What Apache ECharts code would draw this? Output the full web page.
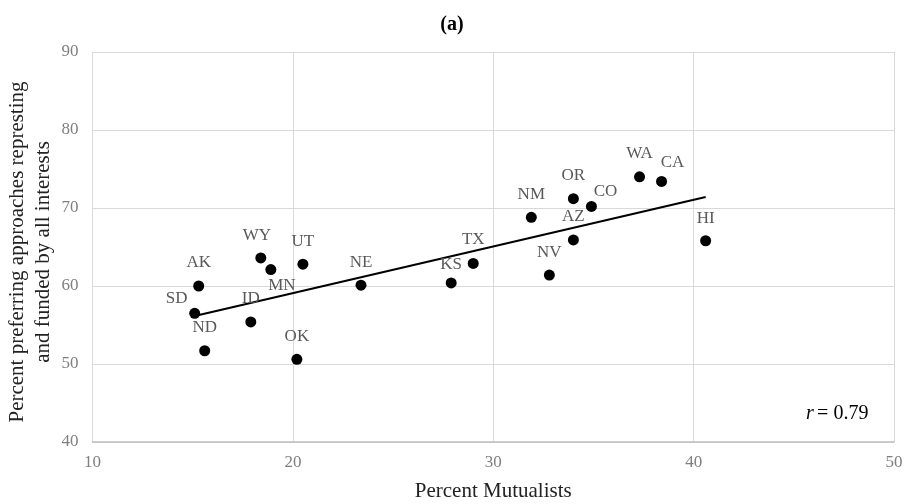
<!DOCTYPE html>
<html><head><meta charset="utf-8">
<script src="https://cdn.jsdelivr.net/npm/echarts@6/dist/echarts.min.js"></script>
<style>html,body{margin:0;padding:0;background:#fff}#c{width:904px;height:504px}</style>
</head><body><div id="c"></div>
<script>
const states = ['AK','WY','MN','UT','NE','SD','ID','ND','OK','KS','TX','NM','NV','AZ','OR','CO','WA','CA','HI'];
const mutualists = [15.3,18.4,18.9,20.5,23.4,15.1,17.9,15.6,20.2,27.9,29.0,31.9,32.8,34.0,34.0,34.9,37.3,38.4,40.6];
const preferring = [60.0,63.6,62.1,62.8,60.1,56.5,55.4,51.7,50.6,60.4,62.9,68.8,61.4,65.9,71.2,70.2,74.0,73.4,65.8];
const trendX = [15.1,40.6];
const trendY = [56.15,71.4];
const xTicks = [10,20,30,40,50];
const yTicks = [40,50,60,70,80,90];
const yTitle = 'Percent preferring approaches represting\nand funded by all interests';

// label offsets (px) for each state's label
const labelOffsets = {
  AK:[0,-23], WY:[-4,-22], MN:[11,16], UT:[0,-23], NE:[0,-23], SD:[-18,-15],
  ID:[0,-23], ND:[0,-23], OK:[0,-23], KS:[0,-18], TX:[0,-24], NM:[0,-23],
  NV:[0,-23], AZ:[0,-23], OR:[0,-23], CO:[14,-15], WA:[0,-23], CA:[11,-19], HI:[0,-22]
};

const serif = '"Liberation Serif","DejaVu Serif",serif';
const chart = echarts.init(document.getElementById('c'));
const pts = states.map((s,i)=>({
  value:[mutualists[i],preferring[i]],
  name:s,
  label:{offset:labelOffsets[s]}
}));
chart.setOption({
  animation:false,
  title:{text:'(a)',left:'center',top:10,textStyle:{fontFamily:serif,fontWeight:'bold',fontSize:20,color:'#000'}},
  grid:{left:92.5,right:10,top:52,bottom:62,containLabel:false,outerBoundsMode:'none'},
  xAxis:{type:'value',min:xTicks[0],max:xTicks[xTicks.length-1],interval:10,
    name:'Percent Mutualists',nameLocation:'middle',nameGap:39,
    nameTextStyle:{fontFamily:serif,fontSize:21,color:'#222'},
    axisLine:{show:true,lineStyle:{color:'#bfbfbf',width:1.5}},
    axisTick:{show:false},
    axisLabel:{fontFamily:serif,fontSize:17,color:'#7f7f7f',margin:12},
    splitLine:{show:true,lineStyle:{color:'#d9d9d9',width:1}}},
  yAxis:{type:'value',min:yTicks[0],max:yTicks[yTicks.length-1],interval:10,
    axisLine:{show:false},axisTick:{show:false},
    axisLabel:{fontFamily:serif,fontSize:17,color:'#7f7f7f',margin:14},
    splitLine:{show:true,lineStyle:{color:'#d9d9d9',width:1}}},
  series:[
    {type:'line',data:trendX.map((x,i)=>[x,trendY[i]]),symbol:'none',
      lineStyle:{color:'#000',width:2},z:3,silent:true},
    {type:'scatter',data:pts,symbol:'circle',symbolSize:11,
      itemStyle:{color:'#000',opacity:1},z:4,
      label:{show:true,position:'inside',formatter:p=>p.name,
        fontFamily:serif,fontSize:17,color:'#595959'}}
  ],
  graphic:[
    {type:'text',left:806,top:404,
      style:{rich:{i:{fontFamily:serif,fontStyle:'italic',fontSize:20,fill:'#000'},n:{fontFamily:serif,fontSize:20,fill:'#000'}},
        text:'{i|r} {n|= 0.79}'}},
    {type:'text',x:30,y:252,rotation:Math.PI/2,
      style:{text:yTitle,fontFamily:serif,fontSize:21,fill:'#222',lineHeight:26,
        align:'center',verticalAlign:'middle'}}
  ]
});
</script></body></html>
